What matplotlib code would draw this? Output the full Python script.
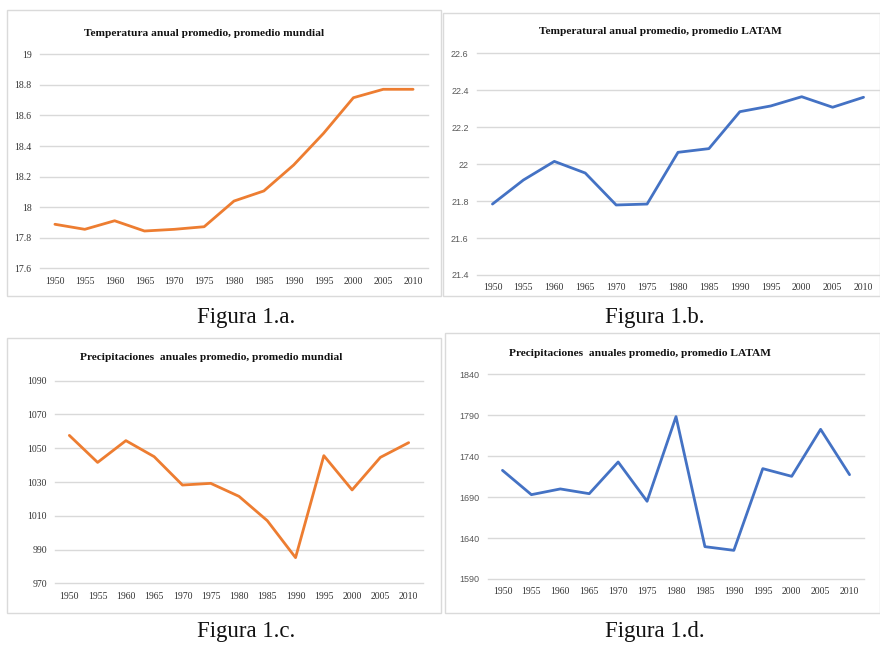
import matplotlib
matplotlib.use("Agg")
import matplotlib.pyplot as plt
from matplotlib.patches import Rectangle

W, H = 880, 646

years = [1950, 1955, 1960, 1965, 1970, 1975, 1980, 1985, 1990, 1995, 2000, 2005, 2010]
temp_mundial = [17.888, 17.855, 17.911, 17.844, 17.855, 17.872, 18.04, 18.106, 18.276,
                18.483, 18.716, 18.771, 18.771]
temp_latam = [21.784, 21.914, 22.015, 21.952, 21.779, 21.784, 22.064, 22.084, 22.284,
              22.315, 22.365, 22.308, 22.362]
prec_mundial = [1057.6, 1041.6, 1054.5, 1045.0, 1028.2, 1029.2, 1021.5, 1007.1, 985.2,
                1045.6, 1025.3, 1044.6, 1053.3]
prec_latam = [1722.7, 1693.0, 1700.0, 1694.2, 1732.9, 1684.9, 1788.3, 1629.5, 1625.0,
              1724.8, 1715.4, 1772.8, 1717.4]

titles = ["Temperatura anual promedio, promedio mundial",
          "Temperatural anual promedio, promedio LATAM",
          "Precipitaciones  anuales promedio, promedio mundial",
          "Precipitaciones  anuales promedio, promedio LATAM"]
captions = ["Figura 1.a.", "Figura 1.b.", "Figura 1.c.", "Figura 1.d."]
yticks_a = [17.6, 17.8, 18.0, 18.2, 18.4, 18.6, 18.8, 19.0]
yticks_b = [21.4, 21.6, 21.8, 22.0, 22.2, 22.4, 22.6]
yticks_c = [970, 990, 1010, 1030, 1050, 1070, 1090]
yticks_d = [1590, 1640, 1690, 1740, 1790, 1840]

ORANGE = "#ED7D31"
BLUE = "#4472C4"
GRID = "#D9D9D9"

fig = plt.figure(figsize=(W / 100, H / 100), dpi=100)
fig.patch.set_facecolor("white")


def fx(x):
    return x / W


def fy(y):
    return 1 - y / H


def box(x0, y0, x1, y1):
    fig.patches.append(Rectangle((fx(x0), fy(y1)), fx(x1) - fx(x0), (y1 - y0) / H,
                                 transform=fig.transFigure, facecolor="none",
                                 edgecolor="#DADADA", linewidth=1.0, zorder=-1))


def fmt(v):
    s = ("%.1f" % v) if abs(v - round(v)) > 1e-9 else "%d" % round(v)
    return s


# panel boxes
box(7, 10, 441, 296)
box(443, 13, 880, 296)
box(7, 338, 441, 613)
box(445, 333, 880, 613)

panels = [
    ((40, 54.3, 428, 268.3), temp_mundial, ORANGE, yticks_a, (204, 33), "serif"),
    ((477, 53.3, 879, 275), temp_latam, BLUE, yticks_b, (660, 32), "sans"),
    ((55.2, 380.7, 422.8, 583.3), prec_mundial, ORANGE, yticks_c, (211, 357), "serif"),
    ((488, 374.3, 864, 579), prec_latam, BLUE, yticks_d, (640, 354), "sans"),
]

for i, ((l, t, r, b), data, col, yt, (tx, ty), yfont) in enumerate(panels):
    ax = fig.add_axes([fx(l), fy(b), fx(r) - fx(l), (b - t) / H])
    ax.set_zorder(2)
    ax.set_facecolor("none")
    xs = list(range(len(years)))
    ax.plot(xs, data, color=col, linewidth=2.0, solid_capstyle="round", zorder=3)
    ax.set_xlim(-0.5, len(years) - 0.5)
    ax.set_ylim(yt[0], yt[-1])
    ax.set_yticks(yt)
    ax.set_yticklabels([fmt(v) for v in yt])
    ax.set_xticks(xs)
    ax.set_xticklabels([str(y) for y in years])
    for s in ax.spines.values():
        s.set_visible(False)
    ax.grid(axis="y", color=GRID, linewidth=1.0, zorder=0)
    for gl in ax.get_ygridlines():
        gl.set_clip_on(False)
    ax.tick_params(length=0, pad=6)
    for lab in ax.get_xticklabels():
        lab.set_fontfamily("Liberation Serif")
        lab.set_fontsize(7)
        lab.set_color("#333333")
    for lab in ax.get_yticklabels():
        if yfont == "serif":
            lab.set_fontfamily("Liberation Serif")
            lab.set_fontsize(7)
            lab.set_color("#333333")
        else:
            lab.set_fontfamily("Liberation Sans")
            lab.set_fontsize(6.5)
            lab.set_color("#595959")
    fig.text(fx(tx), fy(ty), titles[i], ha="center", va="center",
             fontfamily="Liberation Serif", fontweight="bold", fontsize=8.2, color="#111111")

cap_pos = [(246, 318), (655, 318), (246, 632), (655, 632)]
for (cx, cy), c in zip(cap_pos, captions):
    fig.text(fx(cx), fy(cy), c, ha="center", va="center",
             fontfamily="Liberation Serif", fontsize=16.5, color="#111111")

fig.savefig("out.png", dpi=100, facecolor="white")
